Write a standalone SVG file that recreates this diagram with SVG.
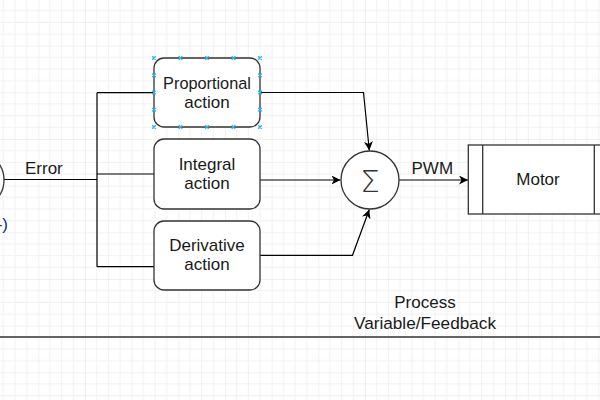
<svg xmlns="http://www.w3.org/2000/svg" width="600" height="400" viewBox="0 0 600 400">
<defs>
<pattern id="grid" patternUnits="userSpaceOnUse" x="-8.333" y="-1" width="46.667" height="46.667">
<path d="M11.667,0V46.667M23.333,0V46.667M35,0V46.667M0,11.667H46.667M0,23.333H46.667M0,35H46.667" stroke="#f1f1f1" stroke-width="1" fill="none"/>
<path d="M0,0V46.667M0,0H46.667" stroke="#e3e3e3" stroke-width="1" fill="none"/>
</pattern>
<marker id="arr" markerUnits="userSpaceOnUse" markerWidth="10" markerHeight="9" refX="9" refY="4.5" orient="auto">
<path d="M0,0 L9,4.5 L0,9 L2.5,4.5 Z" fill="#000"/>
</marker>
</defs>
<style>
.box{fill:#fff;stroke:#333;stroke-width:1.3}
.t{font-family:"Liberation Sans",Arial,sans-serif;font-size:17px;fill:#1a1a1a}
.c{text-anchor:middle}
.ln{fill:none;stroke:#000;stroke-width:1.2}
.h{stroke:#29b6f2;stroke-width:1.4;fill:none}
</style>
<rect width="600" height="400" fill="#fff"/>
<rect width="600" height="400" fill="url(#grid)"/>

<g id="connectors">
<path class="ln" d="M4,179.5H97"/>
<path class="ln" d="M97,92.7V266.7"/>
<path class="ln" d="M97,92.7H154"/>
<path class="ln" d="M97,174H154"/>
<path class="ln" d="M97,266.7H154"/>
<path class="ln" d="M260,92.5H363.5L369.3,150.5" marker-end="url(#arr)"/>
<path class="ln" d="M260,180H340.5" marker-end="url(#arr)"/>
<path class="ln" d="M260,255.3H352.5L369.3,209.5" marker-end="url(#arr)"/>
<path class="ln" d="M399,180H468" marker-end="url(#arr)"/>
<path d="M0,337H600" stroke="#333" stroke-width="1.6" fill="none"/>
</g>

<g id="input-sum">
<circle cx="-25" cy="180" r="29" class="box"/>
<text x="8" y="230" class="t" text-anchor="end" style="fill:#10307a">(-)</text>
</g>
<text class="t" x="25" y="174">Error</text>

<g id="proportional">
<rect class="box" x="154" y="58" width="106" height="69" rx="10"/>
<text class="t c" x="207" y="88.5" style="font-size:16.3px">Proportional</text>
<text class="t c" x="207" y="107.8">action</text>
<path class="h" d="M152.2,56.2l3.6,3.6m0,-3.6l-3.6,3.6M178.7,56.2l3.6,3.6m0,-3.6l-3.6,3.6M205.2,56.2l3.6,3.6m0,-3.6l-3.6,3.6M231.7,56.2l3.6,3.6m0,-3.6l-3.6,3.6M258.2,56.2l3.6,3.6m0,-3.6l-3.6,3.6M152.2,125.2l3.6,3.6m0,-3.6l-3.6,3.6M178.7,125.2l3.6,3.6m0,-3.6l-3.6,3.6M205.2,125.2l3.6,3.6m0,-3.6l-3.6,3.6M231.7,125.2l3.6,3.6m0,-3.6l-3.6,3.6M258.2,125.2l3.6,3.6m0,-3.6l-3.6,3.6M152.2,73.45l3.6,3.6m0,-3.6l-3.6,3.6M152.2,90.7l3.6,3.6m0,-3.6l-3.6,3.6M152.2,107.95l3.6,3.6m0,-3.6l-3.6,3.6M258.2,73.45l3.6,3.6m0,-3.6l-3.6,3.6M258.2,90.7l3.6,3.6m0,-3.6l-3.6,3.6M258.2,107.95l3.6,3.6m0,-3.6l-3.6,3.6"/>
</g>

<g id="integral">
<rect class="box" x="154" y="139" width="106" height="70" rx="10"/>
<text class="t c" x="207" y="169.5">Integral</text>
<text class="t c" x="207" y="189">action</text>
</g>

<g id="derivative">
<rect class="box" x="154" y="221" width="106" height="69" rx="10"/>
<text class="t c" x="207" y="250.7">Derivative</text>
<text class="t c" x="207" y="270">action</text>
</g>

<g id="sum">
<circle class="box" cx="370" cy="180" r="29"/>
<text x="370" y="191.5" text-anchor="middle" style="font-family:'DejaVu Sans',sans-serif;font-size:31px;font-weight:200;fill:#333">Σ</text>
</g>

<text class="t" x="411.5" y="174">PWM</text>

<g id="motor">
<rect class="box" x="468.3" y="145" width="140.4" height="69"/>
<path d="M482.7,145V214M594.3,145V214" stroke="#333" stroke-width="1.3"/>
<text class="t c" x="538" y="184.5">Motor</text>
</g>

<g id="feedback-label">
<text class="t c" x="425" y="308">Process</text>
<text class="t c" x="425" y="328.5" style="font-size:17.2px">Variable/Feedback</text>
</g>
</svg>
